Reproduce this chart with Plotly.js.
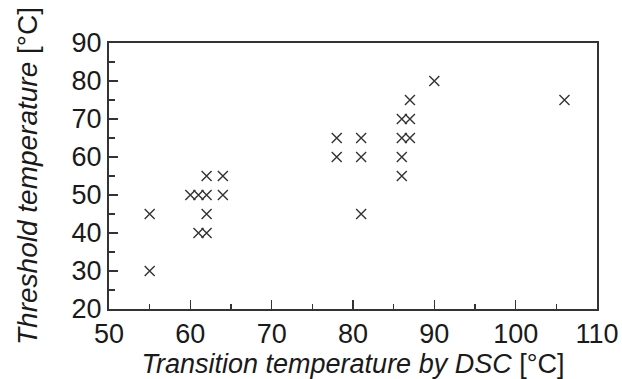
<!DOCTYPE html>
<html>
<head>
<meta charset="utf-8">
<script src="https://cdn.plot.ly/plotly-3.0.1.min.js"></script>
<style>html,body{margin:0;padding:0;background:#fff;}#chart{width:622px;height:379px;}</style>
</head>
<body>
<div id="chart"></div>
<script>
// Transition temperature by DSC [°C]
const transitionTemp = [55, 55, 60, 61, 62, 61, 62, 62, 62, 64, 64, 78, 78, 81, 81, 81, 86, 87, 86, 87, 86, 86, 87, 90, 106];
// Threshold temperature [°C]
const thresholdTemp  = [45, 30, 50, 50, 50, 40, 40, 45, 55, 55, 50, 65, 60, 65, 60, 45, 70, 70, 65, 65, 60, 55, 75, 80, 75];

const xTickVals = [50, 60, 70, 80, 90, 100, 110];
const yTickVals = [20, 30, 40, 50, 60, 70, 80, 90];

const ink = '#333333';
const fontFam = '"Liberation Sans", Arial, Helvetica, sans-serif';

const trace = {
  type: 'scatter',
  mode: 'markers',
  x: transitionTemp,
  y: thresholdTemp,
  marker: {symbol: 'x-thin-open', size: 10, color: ink, line: {color: ink, width: 1.4}},
  hoverinfo: 'x+y'
};

const layout = {
  width: 622,
  height: 379,
  margin: {l: 109, r: 25, t: 43, b: 70},
  paper_bgcolor: '#ffffff',
  plot_bgcolor: '#ffffff',
  showlegend: false,
  font: {family: fontFam, color: '#1a1a1a'},
  xaxis: {
    range: [50, 110],
    tickvals: xTickVals,
    ticktext: xTickVals.map(String),
    ticks: 'inside',
    ticklen: 9,
    tickwidth: 1.5,
    tickcolor: ink,
    minor: {dtick: 5, tick0: 0, ticks: 'inside', ticklen: 5, tickwidth: 1.5, tickcolor: ink},
    showline: true,
    linecolor: ink,
    linewidth: 2,
    mirror: true,
    showgrid: false,
    zeroline: false,
    tickfont: {size: 27, family: fontFam, color: '#1a1a1a'},
    title: {text: '<i>Transition temperature by DSC</i> [°C]', font: {size: 27, family: fontFam, color: '#1a1a1a'}, standoff: 8}
  },
  yaxis: {
    range: [20, 90],
    tickvals: yTickVals,
    ticktext: yTickVals.map(String),
    ticks: 'inside',
    ticklen: 9,
    tickwidth: 1.5,
    tickcolor: ink,
    minor: {dtick: 5, tick0: 0, ticks: 'inside', ticklen: 6, tickwidth: 1.5, tickcolor: ink},
    showline: true,
    linecolor: ink,
    linewidth: 2,
    mirror: true,
    showgrid: false,
    zeroline: false,
    tickfont: {size: 27, family: fontFam, color: '#1a1a1a'},
    title: {text: '<i>Threshold temperature</i> [°C]', font: {size: 28, family: fontFam, color: '#1a1a1a'}, standoff: 26}
  }
};

Plotly.newPlot('chart', [trace], layout, {displayModeBar: false, staticPlot: true});
</script>
</body>
</html>
